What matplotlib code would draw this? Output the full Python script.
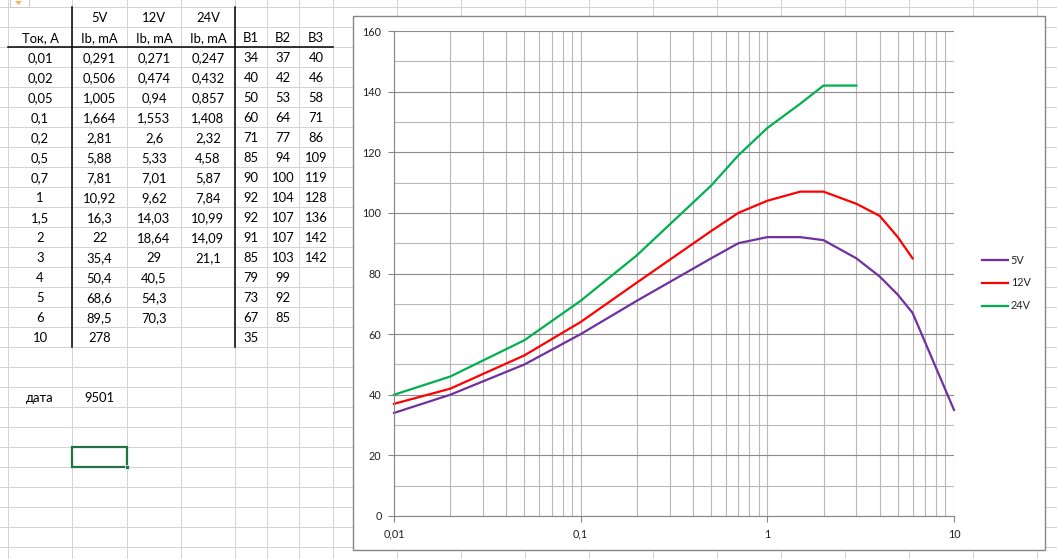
import matplotlib
matplotlib.use("Agg")
import matplotlib.pyplot as plt
from matplotlib.patches import Rectangle, Polygon
from matplotlib.ticker import FixedLocator, MultipleLocator, FuncFormatter, NullFormatter, LogLocator

# ---------------- data ----------------
current_a = [0.01, 0.02, 0.05, 0.1, 0.2, 0.5, 0.7, 1, 1.5, 2, 3, 4, 5, 6, 10]
ib_5v = [0.291, 0.506, 1.005, 1.664, 2.81, 5.88, 7.81, 10.92, 16.3, 22, 35.4, 50.4, 68.6, 89.5, 278]
ib_12v = [0.271, 0.474, 0.94, 1.553, 2.6, 5.33, 7.01, 9.62, 14.03, 18.64, 29, 40.5, 54.3, 70.3]
ib_24v = [0.247, 0.432, 0.857, 1.408, 2.32, 4.58, 5.87, 7.84, 10.99, 14.09, 21.1]
b1 = [34, 40, 50, 60, 71, 85, 90, 92, 92, 91, 85, 79, 73, 67, 35]
b2 = [37, 42, 53, 64, 77, 94, 100, 104, 107, 107, 103, 99, 92, 85]
b3 = [40, 46, 58, 71, 86, 109, 119, 128, 136, 142, 142]
series_names = ["5V", "12V", "24V"]
header_row1 = ["", "5V", "12V", "24V", "", "", ""]
header_row2 = ["Ток, А", "Ib, mA", "Ib, mA", "Ib, mA", "B1", "B2", "B3"]
date_label = "дата"
date_value = "9501"
x_ticks = [0.01, 0.1, 1, 10]
y_max = 160

def fmt(v):
    return f"{v:g}".replace(".", ",")

# ---------------- figure ----------------
W, H = 1057, 559
FONT = ["Lato", "Noto Sans", "DejaVu Sans"]
plt.rcParams["font.family"] = FONT
fig = plt.figure(figsize=(W / 100, H / 100), dpi=100)
bg = fig.add_axes([0, 0, 1, 1])
bg.set_xlim(0, W)
bg.set_ylim(H, 0)
bg.axis("off")

px = 0.72  # one pixel in points
grid_c = "#d4d4d4"
col_edges = [8, 72, 127, 181, 235, 267, 299, 333] + [333 + 64 * k for k in range(1, 13)]
row_edges = [7 + 20 * k for k in range(0, 28)]
for x in col_edges:
    bg.plot([x, x], [0, H], color=grid_c, lw=px, zorder=1)
for y in row_edges:
    bg.plot([0, W], [y, y], color=grid_c, lw=px, zorder=1)

# table borders
bg.plot([8, 333], [47, 47], color="black", lw=1.1, zorder=2)
bg.plot([72, 72], [7, 347], color="black", lw=1.1, zorder=2)
bg.plot([235, 235], [7, 347], color="black", lw=1.1, zorder=2)

# table text
col_centers = [40, 99.5, 154, 208, 251, 283, 316]
tfs = 9.4

def cell(col, row_top, s):
    bg.text(col_centers[col], row_top + 11.5, s, ha="center", va="center",
            fontsize=tfs, color="black", zorder=2)

for c, s in enumerate(header_row1):
    if s:
        cell(c, 7, s)
for c, s in enumerate(header_row2):
    cell(c, 27, s)
for i, cur in enumerate(current_a):
    top = 47 + 20 * i
    cell(0, top, fmt(cur))
    if i < len(ib_5v):
        cell(1, top, fmt(ib_5v[i]))
    if i < len(ib_12v):
        cell(2, top, fmt(ib_12v[i]))
    if i < len(ib_24v):
        cell(3, top, fmt(ib_24v[i]))
    if i < len(b1):
        cell(4, top, str(b1[i]))
    if i < len(b2):
        cell(5, top, str(b2[i]))
    if i < len(b3):
        cell(6, top, str(b3[i]))
cell(0, 387, date_label)
cell(1, 387, date_value)

# selected cell
bg.add_patch(Rectangle((72, 447), 55, 20, fill=False, ec="#217346", lw=1.6, zorder=3))
bg.add_patch(Rectangle((125, 465), 4, 4, fc="#217346", ec="white", lw=0.5, zorder=4))

# top-left icon
bg.add_patch(Rectangle((10, -2), 19, 8.5, fc="white", ec="#c8c8c8", lw=px, zorder=3))
bg.add_patch(Polygon([[15, 1], [18.5, 5], [22, 1]], closed=True, fc="#f0b860", ec="none", zorder=4))

# chart frame
bg.add_patch(Rectangle((353, 16), 692, 534, fc="white", ec="#868686", lw=1.0, zorder=5))

# ---------------- chart ----------------
left, right, top, bottom = 394, 954, 31, 516
ax = fig.add_axes([left / W, (H - bottom) / H, (right - left) / W, (bottom - top) / H])
ax.patch.set_alpha(0)
ax.set_xscale("log")
ax.set_xlim(x_ticks[0], x_ticks[-1])
ax.set_ylim(0, y_max)

ax.xaxis.set_major_locator(FixedLocator(x_ticks))
ax.xaxis.set_major_formatter(FuncFormatter(lambda v, p: fmt(v)))
ax.xaxis.set_minor_locator(LogLocator(base=10, subs=range(2, 10)))
ax.xaxis.set_minor_formatter(NullFormatter())
ax.yaxis.set_major_locator(MultipleLocator(20))
ax.yaxis.set_minor_locator(MultipleLocator(10))
ax.yaxis.set_major_formatter(FuncFormatter(lambda v, p: f"{v:g}"))

ax.grid(which="major", axis="y", color="#8c8c8c", lw=0.8)
ax.grid(which="minor", axis="y", color="#b8b8b8", lw=0.8)
ax.grid(which="both", axis="x", color="#b8b8b8", lw=0.8)
ax.set_axisbelow(True)

for s in ["top", "right"]:
    ax.spines[s].set_visible(False)
for s in ["left", "bottom"]:
    ax.spines[s].set_color("#868686")
    ax.spines[s].set_linewidth(0.8)

ax.tick_params(which="major", length=4, width=0.8, color="#868686",
               labelsize=7.8, labelcolor="#222222", pad=5)
ax.tick_params(which="minor", length=0)

colors = ["#7030A0", "#FF0000", "#00B050"]
for name, vals, c in zip(series_names, [b1, b2, b3], colors):
    ax.plot(current_a[:len(vals)], vals, color=c, lw=1.6, label=name,
            solid_joinstyle="round", clip_on=False)

fig.legend(loc="center left", bbox_to_anchor=(982 / W, 1 - 283 / H),
           bbox_transform=fig.transFigure, frameon=False, handlelength=2.4,
           handletextpad=0.25, labelspacing=1.1, borderpad=0, borderaxespad=0,
           fontsize=7.8, labelcolor="#222222")

fig.savefig("out.png", dpi=100)
